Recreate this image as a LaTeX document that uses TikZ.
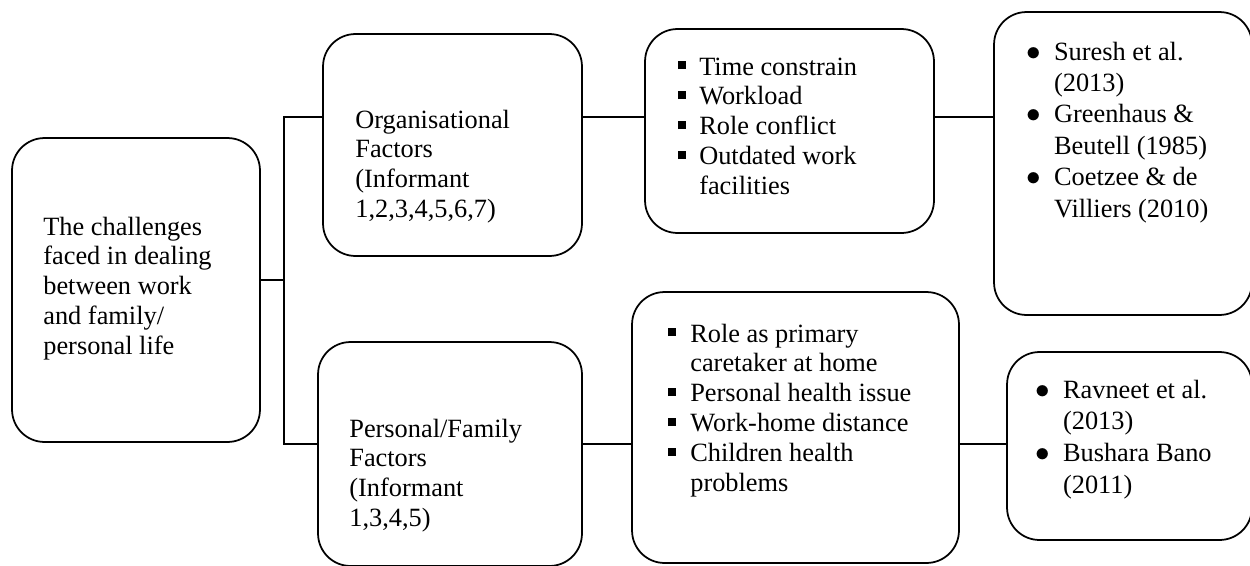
\documentclass[tikz,border=0pt]{standalone}
\usepackage{fontspec}
\setmainfont{Liberation Serif}
\usetikzlibrary{positioning}

\newcommand{\sq}{\rule[3.4pt]{4.5pt}{4.5pt}}
\newcommand{\rd}{\scalebox{1.15}{$\bullet$}}

\tikzset{
    box/.style={draw, line width=1pt, rounded corners=0.65cm, inner sep=0pt, outer sep=0pt},
    txt/.style={anchor=base west, inner sep=0pt, font=\fontsize{15}{17.07}\selectfont},
    link/.style={line width=1pt}
}

\begin{document}
\begin{tikzpicture}[x=0.02cm, y=-0.02cm]
        \useasboundingbox (0,0) rectangle (1250,565);
        \coordinate (toprow) at (0,117);
        \coordinate (midrow) at (0,280);
        \coordinate (botrow) at (0,444);

        % Challenges
        \node[box, minimum width=4.96cm, minimum height=6.08cm] (chal) at (136,290) {};
        \node[txt] (chaltext) at (43,235) {\begin{tabular}[t]{@{}l@{}}The challenges\\faced in dealing\\between work\\and family/\\personal life\end{tabular}};

        % Factors
        \node[box, minimum width=5.18cm, minimum height=4.44cm] (orgfac) at (452.5,145) {};
        \node[txt] (orgfactext) at (355,128) {\begin{tabular}[t]{@{}l@{}}Organisational\\Factors\\(Informant\\1,2,3,4,5,6,7)\end{tabular}};
        \node[box, minimum width=5.28cm, minimum height=4.48cm] (famfac) at (450,454) {};
        \node[txt] (famfactext) at (349,437) {\begin{tabular}[t]{@{}l@{}}Personal/Family\\Factors\\(Informant\\1,3,4,5)\end{tabular}};

        % Issues
        \node[box, minimum width=5.78cm, minimum height=4.08cm] (orgitems) at (789.5,131) {};
        \node[txt] (orgitemstext) at (678,75) {\begin{tabular}[t]{@{}l@{\hspace{7.4pt}}l@{}}\sq & Time constrain\\\sq & Workload\\\sq & Role conflict\\\sq & Outdated work\\ & facilities\end{tabular}};
        \node[box, minimum width=6.54cm, minimum height=5.42cm] (famitems) at (795.5,427.5) {};
        \node[txt] (famitemstext) at (668,342) {\begin{tabular}[t]{@{}l@{\hspace{8pt}}l@{}}\sq & Role as primary\\ & caretaker at home\\\sq & Personal health issue\\\sq & Work-home distance\\\sq & Children health\\ & problems\end{tabular}};

        % References
        \node[box, minimum width=5.16cm, minimum height=6.06cm] (orgrefs) at (1123,163.5) {};
        \node[txt, font=\fontsize{15}{17.9}\selectfont] (orgrefstext) at (1026.5,60) {\begin{tabular}[t]{@{}l@{\hspace{7.2pt}}l@{}}\rd & Suresh et al.\\ & (2013)\\\rd & Greenhaus \&\\ & Beutell (1985)\\\rd & Coetzee \& de\\ & Villiers (2010)\end{tabular}};
        \node[box, minimum width=4.9cm, minimum height=3.76cm] (famrefs) at (1129.5,446) {};
        \node[txt, font=\fontsize{15}{18.2}\selectfont] (famrefstext) at (1035.5,398) {\begin{tabular}[t]{@{}l@{\hspace{7.2pt}}l@{}}\rd & Ravneet et al.\\ & (2013)\\\rd & Bushara Bano\\ & (2011)\end{tabular}};

        % Connectors
        \draw[link] (chal.east |- midrow) -- ++(24,0) coordinate (bus);
        \draw[link] (orgfac.west |- toprow) -| (bus) |- (famfac.west |- botrow);
        \draw[link] (orgfac.east |- toprow) -- (orgitems.west |- toprow);
        \draw[link] (orgitems.east |- toprow) -- (orgrefs.west |- toprow);
        \draw[link] (famfac.east |- botrow) -- (famitems.west |- botrow);
        \draw[link] (famitems.east |- botrow) -- (famrefs.west |- botrow);
\end{tikzpicture}
\end{document}
